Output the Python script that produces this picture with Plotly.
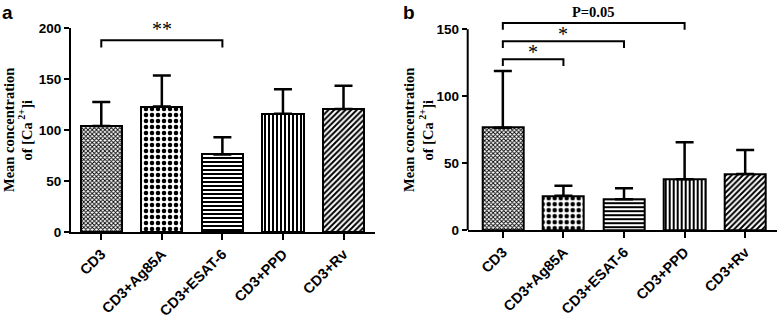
import plotly.graph_objects as go

categories = ["CD3", "CD3+Ag85A", "CD3+ESAT-6", "CD3+PPD", "CD3+Rv"]
a_mean = [104, 123, 76, 116, 120.5]
a_sd = [23.5, 30.5, 17, 24, 23]
b_mean = [76.5, 25.6, 22.9, 37.9, 41.9]
b_sd = [42.3, 7.5, 8.3, 27.6, 17.9]
a_ticks = [0, 50, 100, 150, 200]
b_ticks = [0, 50, 100, 150]
# comparisons: (from index, to index, bracket level, label)
a_brackets = [(0, 2, 188, "**")]
b_brackets = [(0, 1, 127.6, "*"), (0, 2, 141, "*"), (0, 3, 154.7, "P=0.05")]
ylabel_lines = ["Mean concentration", "of [Ca<sup> 2+</sup>]i"]

shapes_list = ["x", ".", "-", "|", "/"]
pattern_sizes = [3, 6, 4, 4, 4]
pattern_solid = [0.5, 0.45, 0.5, 0.5, 0.5]

xs = list(range(len(categories)))

W, H = 778, 320
AX_A = [71 / W, 375 / W]
AY_A = [1 - 232 / H, 1 - 28 / H]
AX_B = [467.7 / W, 776.7 / W]
AY_B = [1 - 230 / H, 1 - 9.2 / H]

SANS = "Liberation Sans, Arial, sans-serif"
SERIF = "Liberation Serif, Times New Roman, serif"


def bar_trace(vals, sds, xa, ya):
    return go.Bar(
        x=xs, y=vals, width=0.68, xaxis=xa, yaxis=ya, showlegend=False,
        hoverinfo="skip",
        marker=dict(
            color="white",
            line=dict(color="black", width=2),
            pattern=dict(shape=shapes_list, size=pattern_sizes,
                         solidity=pattern_solid, fgcolor="black",
                         bgcolor="white", fillmode="replace"),
        ),
        error_y=dict(type="data", array=sds, arrayminus=[0] * len(sds),
                     symmetric=False, color="black", thickness=2.5, width=9),
    )


fig = go.Figure()
fig.add_trace(bar_trace(a_mean, a_sd, "x", "y"))
fig.add_trace(bar_trace(b_mean, b_sd, "x2", "y2"))

xcommon = dict(showline=True, linewidth=2, linecolor="black", ticks="outside",
               ticklen=6, tickwidth=2, tickcolor="black", tickangle=-45,
               tickvals=xs, ticktext=categories, showgrid=False, zeroline=False,
               automargin=False,
               tickfont=dict(family=SANS, size=14.5, color="black", weight="bold"))
ycommon = dict(linewidth=2, linecolor="black", ticks="outside", ticklen=5,
               tickwidth=2, tickcolor="black", showgrid=False, zeroline=False,
               automargin=False,
               tickfont=dict(family=SANS, size=13.5, color="black", weight="bold"))

fig.update_layout(
    template="none",
    width=W, height=H, margin=dict(l=0, r=0, t=0, b=0, pad=0),
    paper_bgcolor="white", plot_bgcolor="white",
    xaxis=dict(domain=AX_A, range=[-0.5, 4.52], anchor="y", **xcommon),
    yaxis=dict(domain=AY_A, range=[0, 200], tickvals=a_ticks, anchor="x",
               showline=True, **ycommon),
    xaxis2=dict(domain=AX_B, range=[-0.58, 4.52], anchor="y2", **xcommon),
    yaxis2=dict(domain=AY_B, range=[0, 165], tickvals=b_ticks, anchor="x2",
                showline=False, **ycommon),
    bargap=0,
)

shapes = []
annotations = []

# y-axis line for panel b (stops at the top tick)
shapes.append(dict(type="line", xref="paper", yref="y2", x0=AX_B[0], x1=AX_B[0],
                   y0=0, y1=b_ticks[-1], line=dict(color="black", width=2)))


def add_brackets(brks, xr, yr, depth, star_size, text_shift):
    for (i0, i1, lvl, lab) in brks:
        path = f"M {i0},{lvl - depth} L {i0},{lvl} L {i1},{lvl} L {i1},{lvl - depth}"
        shapes.append(dict(type="path", path=path, xref=xr, yref=yr,
                           line=dict(color="black", width=2)))
        if lab.startswith("P"):
            font = dict(family=SERIF, size=14.5, color="black", weight="bold")
            ys = 1
        else:
            font = dict(family=SERIF, size=star_size, color="black")
            ys = text_shift
        annotations.append(dict(x=(i0 + i1) / 2, y=lvl, xref=xr, yref=yr,
                                text=lab, showarrow=False, yanchor="bottom",
                                font=font, yshift=ys))


add_brackets(a_brackets, "x", "y", 7, 20, -2)
add_brackets(b_brackets, "x2", "y2", 5, 20, -6)

for cxs in ((9, 25.5), (409, 426.5)):
    for cx, line in zip(cxs, ylabel_lines):
        annotations.append(dict(x=cx / W, y=1 - 130 / H, xref="paper", yref="paper",
                                text=line, textangle=-90, showarrow=False,
                                xanchor="center", yanchor="middle",
                                font=dict(family=SERIF, size=14.5, color="black",
                                          weight="bold")))
annotations.append(dict(x=0, y=1, xref="paper", yref="paper", text="a",
                        showarrow=False, xanchor="left", yanchor="top",
                        font=dict(family=SANS, size=19, color="black", weight="bold")))
annotations.append(dict(x=401 / W, y=1, xref="paper", yref="paper", text="b",
                        showarrow=False, xanchor="left", yanchor="top",
                        font=dict(family=SANS, size=19, color="black", weight="bold")))

fig.update_layout(shapes=shapes, annotations=annotations)
fig.write_html(
    "out.html",
    config={"displayModeBar": False},
    post_script="document.body.style.margin='0';document.body.style.overflow='hidden';",
)
